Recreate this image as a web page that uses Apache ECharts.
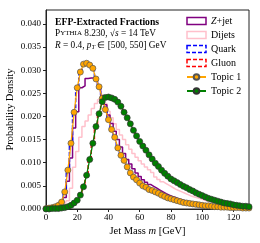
<!DOCTYPE html>
<html><head><meta charset="utf-8">
<script src="https://cdn.jsdelivr.net/npm/echarts@6/dist/echarts.min.js"></script>
<style>html,body{margin:0;padding:0;background:#fff}#c{width:260px;height:243px}</style>
</head><body><div id="c"></div>
<script>
var massBins = [0,2,4,6,8,10,12,14,16,18,20,22,24,26,28,30,32,34,36,38,40,42,44,46,48,50,52,54,56,58,60,62,64,66,68,70,72,74,76,78,80,82,84,86,88,90,92,94,96,98,100,102,104,106,108,110,112,114,116,118,120,122,124,126,128,130];
var zjet = [0.0001,0.0002,0.0003,0.0004,0.0006,0.0010,0.0025,0.0060,0.0110,0.0175,0.0210,0.0262,0.0266,0.0282,0.0283,0.0283,0.0278,0.0262,0.0245,0.0225,0.0203,0.0185,0.0168,0.0150,0.0134,0.0120,0.0107,0.0097,0.0087,0.0078,0.0070,0.0063,0.0058,0.0053,0.0049,0.0045,0.0041,0.0037,0.0033,0.0030,0.0027,0.0025,0.0022,0.0020,0.0018,0.0016,0.0015,0.0013,0.0012,0.0011,0.0010,0.0009,0.0008,0.0007,0.0006,0.0006,0.0005,0.0005,0.0004,0.0004,0.0003,0.0003,0.0003,0.0002,0.0002,0.0002];
var dijets = [0.0000,0.0001,0.0001,0.0002,0.0003,0.0005,0.0009,0.0018,0.0045,0.0090,0.0124,0.0155,0.0178,0.0190,0.0203,0.0217,0.0228,0.0236,0.0237,0.0228,0.0211,0.0197,0.0184,0.0172,0.0160,0.0150,0.0139,0.0129,0.0120,0.0112,0.0104,0.0097,0.0091,0.0085,0.0079,0.0069,0.0064,0.0059,0.0055,0.0051,0.0047,0.0043,0.0040,0.0037,0.0034,0.0031,0.0028,0.0026,0.0024,0.0022,0.0020,0.0018,0.0016,0.0015,0.0013,0.0012,0.0011,0.0010,0.0009,0.0008,0.0008,0.0007,0.0006,0.0005,0.0005,0.0004];
var quark = [0.0001,0.0002,0.0003,0.0005,0.0008,0.0015,0.0037,0.0084,0.0142,0.0209,0.0262,0.0296,0.0313,0.0315,0.0311,0.0304,0.0281,0.0264,0.0239,0.0215,0.0193,0.0172,0.0155,0.0132,0.0116,0.0105,0.0091,0.0078,0.0069,0.0063,0.0056,0.0050,0.0047,0.0042,0.0040,0.0037,0.0034,0.0030,0.0027,0.0024,0.0022,0.0020,0.0018,0.0016,0.0014,0.0013,0.0012,0.0011,0.0010,0.0009,0.0008,0.0007,0.0007,0.0006,0.0005,0.0005,0.0004,0.0004,0.0004,0.0003,0.0003,0.0003,0.0003,0.0002,0.0002,0.0002];
var gluon = [0.0000,0.0000,0.0001,0.0001,0.0001,0.0002,0.0003,0.0005,0.0008,0.0013,0.0019,0.0030,0.0048,0.0073,0.0107,0.0142,0.0178,0.0206,0.0232,0.0241,0.0242,0.0240,0.0237,0.0231,0.0222,0.0209,0.0197,0.0184,0.0170,0.0158,0.0146,0.0136,0.0127,0.0117,0.0108,0.0099,0.0092,0.0084,0.0077,0.0071,0.0065,0.0061,0.0057,0.0053,0.0049,0.0046,0.0042,0.0039,0.0035,0.0032,0.0029,0.0026,0.0023,0.0021,0.0019,0.0017,0.0015,0.0013,0.0012,0.0011,0.0009,0.0008,0.0007,0.0006,0.0006,0.0005];
var topic1 = [0.0001,0.0002,0.0003,0.0005,0.0008,0.0015,0.0037,0.0084,0.0142,0.0209,0.0262,0.0296,0.0313,0.0315,0.0311,0.0304,0.0281,0.0264,0.0239,0.0215,0.0193,0.0172,0.0155,0.0132,0.0116,0.0105,0.0091,0.0078,0.0069,0.0063,0.0056,0.0050,0.0047,0.0042,0.0040,0.0037,0.0034,0.0030,0.0027,0.0024,0.0022,0.0020,0.0018,0.0016,0.0014,0.0013,0.0012,0.0011,0.0010,0.0009,0.0008,0.0007,0.0007,0.0006,0.0005,0.0005,0.0004,0.0004,0.0004,0.0003,0.0003,0.0003,0.0003,0.0002,0.0002,0.0002];
var topic2 = [0.0000,0.0000,0.0001,0.0001,0.0001,0.0002,0.0003,0.0005,0.0008,0.0013,0.0019,0.0030,0.0048,0.0073,0.0107,0.0142,0.0178,0.0206,0.0232,0.0241,0.0242,0.0240,0.0237,0.0231,0.0222,0.0209,0.0197,0.0184,0.0170,0.0158,0.0146,0.0136,0.0127,0.0117,0.0108,0.0099,0.0092,0.0084,0.0077,0.0071,0.0065,0.0061,0.0057,0.0053,0.0049,0.0046,0.0042,0.0039,0.0035,0.0032,0.0029,0.0026,0.0023,0.0021,0.0019,0.0017,0.0015,0.0013,0.0012,0.0011,0.0009,0.0008,0.0007,0.0006,0.0006,0.0005];
var xTicks = [0,20,40,60,80,100,120];
var yTicks = [0,0.005,0.010,0.015,0.020,0.025,0.030,0.035,0.040];

function pairs(v){ return massBins.map(function(m,i){ return [m, v[i]]; }); }
var FF = 'Liberation Serif';
var chart = echarts.init(document.getElementById('c'), null, {renderer:'canvas'});
function stepSeries(name, data, color, dashed, z){
  return {name:name, type:'line', step:'middle', data:pairs(data), showSymbol:false, symbol:'none', z:z,
    lineStyle:{color:color, width:1.5, type: dashed ? [4,2] : 'solid'}, itemStyle:{color:color}, animation:false};
}
function topicSeries(name, data, color, edge, z){
  return {name:name, type:'line', data:pairs(data), symbol:'circle', symbolSize:6, z:z,
    lineStyle:{color:color, width:1.3}, itemStyle:{color:color, borderColor:edge, borderWidth:0.7}, animation:false};
}
chart.setOption({
  animation:false,
  grid:{left:46, right:11, top:10, bottom:34, outerBoundsMode:'none', containLabel:false, show:true, borderColor:'#222', borderWidth:1, backgroundColor:'transparent'},
  xAxis:{type:'value', min:0, max:130, interval:20,
    name:'Jet Mass {i|m} [GeV]', nameLocation:'middle', nameGap:17, nameMoveOverlap:false,
    nameTextStyle:{fontFamily:FF, fontSize:10.5, color:'#000', rich:{i:{fontFamily:FF, fontStyle:'italic', fontSize:10.5}}},
    axisLine:{lineStyle:{color:'#222', width:1}},
    axisTick:{customValues:xTicks, length:3, lineStyle:{color:'#222'}},
    axisLabel:{customValues:xTicks, fontFamily:FF, fontSize:9, color:'#000', margin:4},
    splitLine:{show:false}},
  yAxis:{type:'value', min:0, max:0.043, interval:0.005,
    name:'Probability Density', nameLocation:'middle', nameGap:30, nameMoveOverlap:false,
    nameTextStyle:{fontFamily:FF, fontSize:10.5, color:'#000'},
    axisLine:{lineStyle:{color:'#222', width:1}},
    axisTick:{customValues:yTicks, length:3, lineStyle:{color:'#222'}},
    axisLabel:{customValues:yTicks, fontFamily:FF, fontSize:9, color:'#000', margin:5,
      formatter:function(v){ return v.toFixed(3); }},
    splitLine:{show:false}},
  legend:{orient:'vertical', left:186, top:16, padding:0, itemWidth:19, itemHeight:7, itemGap:4,
    textStyle:{fontFamily:FF, fontSize:10, color:'#000', rich:{i:{fontFamily:FF, fontStyle:'italic', fontSize:10}}},
    formatter:function(n){ return n==='Z+jet' ? '{i|Z}+jet' : n; },
    data:[
      {name:'Z+jet', icon:'rect', itemStyle:{color:'rgba(0,0,0,0)', borderColor:'#800080', borderWidth:1.5}},
      {name:'Dijets', icon:'rect', itemStyle:{color:'rgba(0,0,0,0)', borderColor:'#FFC0CB', borderWidth:1.5}},
      {name:'Quark', icon:'rect', itemStyle:{color:'rgba(0,0,0,0)', borderColor:'#0000FF', borderWidth:1.5, borderType:[4,2]}},
      {name:'Gluon', icon:'rect', itemStyle:{color:'rgba(0,0,0,0)', borderColor:'#FF0000', borderWidth:1.5, borderType:[4,2]}},
      {name:'Topic 1'},
      {name:'Topic 2'}
    ]},
  graphic:[
    {type:'text', left:55, top:17, style:{text:'EFP-Extracted Fractions', fontFamily:FF, fontWeight:'bold', fontSize:9.7, fill:'#000'}},
    {type:'text', left:55, top:29, style:{text:'{a|P}{b|YTHIA} 8.230, √{i|s} = 14 TeV', fontFamily:FF, fontSize:9.3, fill:'#000',
      rich:{a:{fontFamily:FF, fontSize:9.3}, b:{fontFamily:FF, fontSize:7}, i:{fontFamily:FF, fontStyle:'italic', fontSize:9.3}}}},
    {type:'text', left:55, top:41, style:{text:'{i|R} = 0.4, {i|p}{s|T} ∈ [500, 550] GeV', fontFamily:FF, fontSize:9.3, fill:'#000',
      rich:{i:{fontFamily:FF, fontStyle:'italic', fontSize:9.3}, s:{fontFamily:FF, fontStyle:'italic', fontSize:6.5, padding:[4,0,0,0]}}}}
  ],
  series:[
    stepSeries('Dijets', dijets, '#FFC0CB', false, 2),
    stepSeries('Z+jet', zjet, '#800080', false, 3),
    stepSeries('Quark', quark, '#0000FF', true, 4),
    stepSeries('Gluon', gluon, '#FF0000', true, 4),
    topicSeries('Topic 1', topic1, '#FFA500', '#555', 5),
    topicSeries('Topic 2', topic2, '#008000', '#333', 5)
  ]
});
</script></body></html>
